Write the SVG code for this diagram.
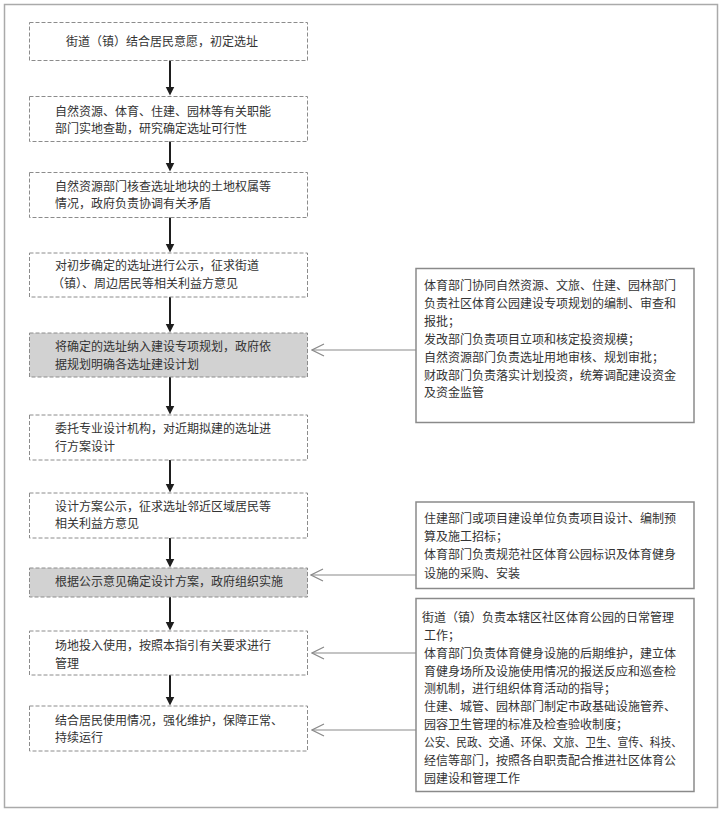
<svg xmlns="http://www.w3.org/2000/svg" width="727" height="816" viewBox="0 0 727 816">
<style>
.t{font-family:"Noto Sans CJK SC","Noto Sans",sans-serif;font-size:12px;fill:#333;}
.step{fill:#fff;stroke:#8c8c8c;stroke-width:1;stroke-dasharray:4 2;}
.step.hl{fill:#d2d2d2;}
.note{fill:#fff;stroke:#8a8a8a;stroke-width:1.5;}
.down{stroke:#1e1e1e;stroke-width:2;fill:none;marker-end:url(#ah);}
.side{stroke:#8a8a8a;stroke-width:1.2;fill:none;marker-end:url(#oh);}
</style>
<defs>
<marker id="ah" markerUnits="userSpaceOnUse" markerWidth="10" markerHeight="10" refX="0.5" refY="4.5" orient="auto">
<path d="M0,0 L9,4.5 L0,9 z" fill="#1e1e1e"/>
</marker>
<marker id="oh" markerUnits="userSpaceOnUse" markerWidth="14" markerHeight="14" refX="12.5" refY="6.5" orient="auto">
<path d="M0.5,0.5 L12.5,6.5 L0.5,12.5" fill="none" stroke="#8a8a8a" stroke-width="1.2"/>
</marker>
</defs>
<rect x="0" y="0" width="727" height="816" fill="#fff"/>
<rect x="4.5" y="4.5" width="713" height="803" fill="none" stroke="#aaa" stroke-width="1.5"/>

<g id="connectors">
<path class="down" d="M170,60 V87"/>
<path class="down" d="M170,141 V163"/>
<path class="down" d="M170,217 V244"/>
<path class="down" d="M170,297 V324"/>
<path class="down" d="M170,377 V406"/>
<path class="down" d="M170,460 V484"/>
<path class="down" d="M170,538 V559"/>
<path class="down" d="M170,597 V622"/>
<path class="down" d="M170,675 V697"/>
<path class="side" d="M416,350 H312"/>
<path class="side" d="M416,575 H311"/>
<path class="side" d="M416,653 H312"/>
<path class="side" d="M416,730 H312"/>
</g>

<g id="s1"><rect class="step" x="29.5" y="22.5" width="278" height="38"/>
<text class="t" x="66" y="46">街道（镇）结合居民意愿，初定选址</text></g>

<g id="s2"><rect class="step" x="29.5" y="96.5" width="278" height="45"/>
<text class="t" x="55" y="115.5">自然资源、体育、住建、园林等有关职能</text>
<text class="t" x="55" y="133">部门实地查勘，研究确定选址可行性</text></g>

<g id="s3"><rect class="step" x="29.5" y="172.5" width="278" height="45"/>
<text class="t" x="55" y="190.5">自然资源部门核查选址地块的土地权属等</text>
<text class="t" x="55" y="208">情况，政府负责协调有关矛盾</text></g>

<g id="s4"><rect class="step" x="29.5" y="253" width="278" height="44"/>
<text class="t" x="55" y="270">对初步确定的选址进行公示，征求街道</text>
<text class="t" x="52" y="288">（镇）、周边居民等相关利益方意见</text></g>

<g id="s5"><rect class="step hl" x="29.5" y="333" width="278" height="44"/>
<text class="t" x="55" y="351">将确定的选址纳入建设专项规划，政府依</text>
<text class="t" x="55" y="369">据规划明确各选址建设计划</text></g>

<g id="s6"><rect class="step" x="29.5" y="415" width="278" height="45"/>
<text class="t" x="55" y="433">委托专业设计机构，对近期拟建的选址进</text>
<text class="t" x="55" y="451">行方案设计</text></g>

<g id="s7"><rect class="step" x="29.5" y="493" width="278" height="45"/>
<text class="t" x="55" y="510.5">设计方案公示，征求选址邻近区域居民等</text>
<text class="t" x="55" y="528">相关利益方意见</text></g>

<g id="s8"><rect class="step hl" x="29.5" y="568" width="278" height="29"/>
<text class="t" x="55" y="586">根据公示意见确定设计方案，政府组织实施</text></g>

<g id="s9"><rect class="step" x="29.5" y="631" width="278" height="44"/>
<text class="t" x="55" y="649.5">场地投入使用，按照本指引有关要求进行</text>
<text class="t" x="55" y="667.5">管理</text></g>

<g id="s10"><rect class="step" x="29.5" y="706" width="278" height="45"/>
<text class="t" x="55" y="724.5">结合居民使用情况，强化维护，保障正常、</text>
<text class="t" x="55" y="741.5">持续运行</text></g>

<g id="n1"><rect class="note" x="416" y="268.5" width="278" height="154"/>
<text class="t" x="424" y="290">体育部门协同自然资源、文旅、住建、园林部门</text>
<text class="t" x="424" y="308">负责社区体育公园建设专项规划的编制、审查和</text>
<text class="t" x="424" y="326">报批；</text>
<text class="t" x="424" y="344">发改部门负责项目立项和核定投资规模；</text>
<text class="t" x="424" y="361.5">自然资源部门负责选址用地审核、规划审批；</text>
<text class="t" x="424" y="379.5">财政部门负责落实计划投资，统筹调配建设资金</text>
<text class="t" x="424" y="397">及资金监管</text></g>

<g id="n2"><rect class="note" x="416" y="502" width="278" height="86.5"/>
<text class="t" x="424" y="522.5">住建部门或项目建设单位负责项目设计、编制预</text>
<text class="t" x="424" y="541">算及施工招标；</text>
<text class="t" x="424" y="559">体育部门负责规范社区体育公园标识及体育健身</text>
<text class="t" x="424" y="577.5">设施的采购、安装</text></g>

<g id="n3"><rect class="note" x="416" y="598.5" width="278" height="193"/>
<text class="t" x="422" y="621.5">街道（镇）负责本辖区社区体育公园的日常管理</text>
<text class="t" x="424" y="639.5">工作；</text>
<text class="t" x="424" y="657.5">体育部门负责体育健身设施的后期维护，建立体</text>
<text class="t" x="424" y="675.5">育健身场所及设施使用情况的报送反应和巡查检</text>
<text class="t" x="424" y="693">测机制，进行组织体育活动的指导；</text>
<text class="t" x="424" y="711">住建、城管、园林部门制定市政基础设施管养、</text>
<text class="t" x="424" y="729">园容卫生管理的标准及检查验收制度；</text>
<text class="t" x="424" y="747" textLength="258" lengthAdjust="spacingAndGlyphs">公安、民政、交通、环保、文旅、卫生、宣传、科技、</text>
<text class="t" x="424" y="765">经信等部门，按照各自职责配合推进社区体育公</text>
<text class="t" x="424" y="783">园建设和管理工作</text></g>
</svg>
